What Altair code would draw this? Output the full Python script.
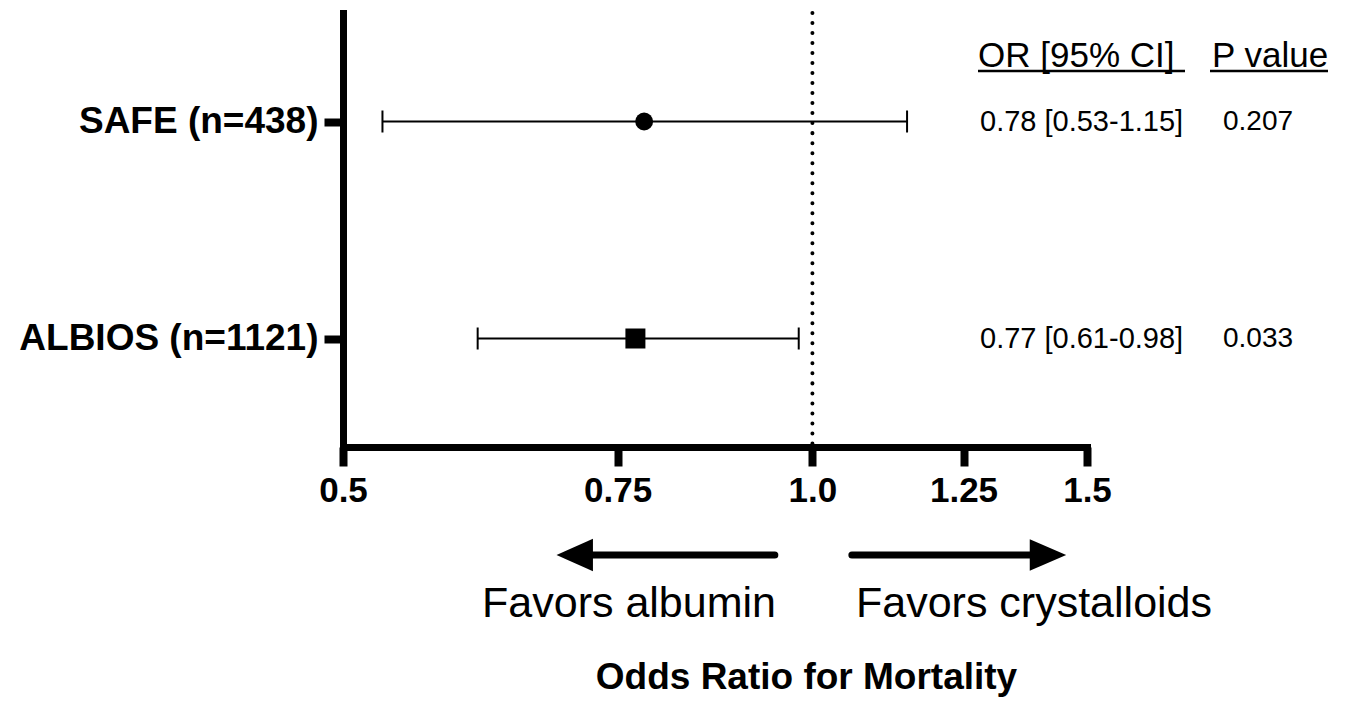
import altair as alt
import pandas as pd

FONT = "Liberation Sans"

# ---- data ----
studies = ["SAFE (n=438)", "ALBIOS (n=1121)"]
odds_ratio = [0.78, 0.77]
ci_low = [0.53, 0.61]
ci_high = [1.15, 0.98]
or_text = ["0.78 [0.53-1.15]", "0.77 [0.61-0.98]"]
p_text = ["0.207", "0.033"]
marker_shapes = ["circle", "square"]
marker_sizes = [320, 400]

tick_values = [0.5, 0.75, 1.0, 1.25, 1.5]
tick_labels = ["0.5", "0.75", "1.0", "1.25", "1.5"]
reference_or = [1.0]

arrow_dir = ["left", "right"]
arrow_from = [0.946, 1.060]
arrow_to = [0.720, 1.383]
arrow_head = [0.704, 1.416]
arrow_paths = ["M-1,0L1,-0.889L1,0.889Z", "M1,0L-1,-0.865L-1,0.865Z"]
arrow_text = ["Favors albumin", "Favors crystalloids"]

df = pd.DataFrame({
    "study": studies, "or": odds_ratio, "lo": ci_low, "hi": ci_high,
    "or_text": or_text, "p_text": p_text,
})
caps = pd.DataFrame({
    "study": studies * 2,
    "end": ci_low + ci_high,
})
ref = pd.DataFrame({"x": reference_or})
arrows = pd.DataFrame({"dir": arrow_dir, "x1": arrow_from, "x2": arrow_to, "head": arrow_head})

label_expr = "[{}][indexof([{}], datum.value)]".format(
    ",".join("'%s'" % t for t in tick_labels), ",".join(str(v) for v in tick_values)
)

xscale = alt.Scale(type="log", domain=[0.5, 1.5], nice=False)
yscale = alt.Scale(type="point", domain=studies, padding=0.5)

x_axis = alt.Axis(
    values=tick_values, labelExpr=label_expr, grid=False,
    domainWidth=7, domainColor="black", domainCap="square",
    tickWidth=8, tickSize=19, tickColor="black",
    labelFont=FONT, labelFontSize=35, labelFontWeight="bold", labelColor="black",
    labelPadding=7, labelFlush=False, labelOverlap=False, labelBound=False,
    title="Odds Ratio for Mortality", titleFont=FONT, titleFontSize=37,
    titleFontWeight="bold", titleColor="black", titleX=463, titleY=241,
    titleAlign="center", titleBaseline="alphabetic",
)
y_axis = alt.Axis(
    title=None, grid=False,
    domainWidth=7, domainColor="black", domainCap="square",
    tickWidth=8, tickSize=19, tickColor="black",
    labelFont=FONT, labelFontSize=37, labelFontWeight="bold", labelColor="black",
    labelPadding=6, labelLimit=0,
)

ref_line = alt.Chart(ref).mark_rule(
    color="black", strokeWidth=4, strokeDash=[0.01, 10], strokeCap="round"
).encode(x=alt.X("x:Q", scale=xscale, axis=x_axis))

bars = alt.Chart(df).mark_rule(color="black", strokeWidth=2).encode(
    x=alt.X("lo:Q", scale=xscale),
    x2="hi:Q",
    y=alt.Y("study:N", scale=yscale, axis=y_axis, sort=studies),
)

cap_marks = alt.Chart(caps).mark_tick(color="black", thickness=2, size=22, opacity=1).encode(
    x=alt.X("end:Q", scale=xscale),
    y=alt.Y("study:N", scale=yscale, sort=studies),
)

points = alt.Chart(df).mark_point(filled=True, color="black", opacity=1).encode(
    x=alt.X("or:Q", scale=xscale),
    y=alt.Y("study:N", scale=yscale, sort=studies),
    shape=alt.Shape("study:N", scale=alt.Scale(domain=studies, range=marker_shapes), legend=None),
    size=alt.Size("study:N", scale=alt.Scale(domain=studies, range=marker_sizes), legend=None),
)

or_labels = alt.Chart(df).mark_text(
    font=FONT, fontSize=29, align="left", baseline="middle", color="black"
).encode(
    x=alt.value(637), y=alt.Y("study:N", scale=yscale, sort=studies), text="or_text:N"
)
p_labels = alt.Chart(df).mark_text(
    font=FONT, fontSize=28, align="center", baseline="middle", color="black"
).encode(
    x=alt.value(915), y=alt.Y("study:N", scale=yscale, sort=studies), text="p_text:N"
)

headers = pd.DataFrame({
    "label": ["OR [95% CI]", "P value"],
    "x": [635, 869], "ux1": [635, 867], "ux2": [842, 985],
})
header_text = alt.Chart(headers).mark_text(
    font=FONT, fontSize=35, align="left", baseline="alphabetic", color="black"
).encode(x=alt.X("x:Q", scale=None), y=alt.value(54), text="label:N")
header_line = alt.Chart(headers).mark_rule(color="black", strokeWidth=2.5).encode(
    x=alt.X("ux1:Q", scale=None), x2="ux2:Q", y=alt.value(58)
)

arrow_lines = alt.Chart(arrows).mark_rule(
    color="black", strokeWidth=7, strokeCap="round"
).encode(x=alt.X("x1:Q", scale=xscale), x2="x2:Q", y=alt.value(542))
arrow_heads = alt.Chart(arrows).mark_point(filled=True, color="black", opacity=1, size=1330).encode(
    x=alt.X("head:Q", scale=xscale),
    y=alt.value(542),
    shape=alt.Shape("dir:N", scale=alt.Scale(domain=arrow_dir, range=arrow_paths), legend=None),
)
favor = pd.DataFrame({"label": arrow_text, "x": [286, 691]})
favor_text = alt.Chart(favor).mark_text(
    font=FONT, fontSize=43, align="center", baseline="alphabetic", color="black"
).encode(x=alt.X("x:Q", scale=None), y=alt.value(604), text="label:N")

chart = alt.layer(
    ref_line, bars, cap_marks, points, or_labels, p_labels,
    header_text, header_line, arrow_lines, arrow_heads, favor_text,
).resolve_scale(shape="independent", size="independent").properties(
    width=744, height=434,
    background="white",
    autosize=alt.AutoSizeParams(type="none"),
    padding={"left": 335, "top": 5, "right": 255, "bottom": 252},
).configure_view(strokeWidth=0, stroke="transparent")

chart.save("out.html", embed_options={"renderer": "svg", "actions": False})
